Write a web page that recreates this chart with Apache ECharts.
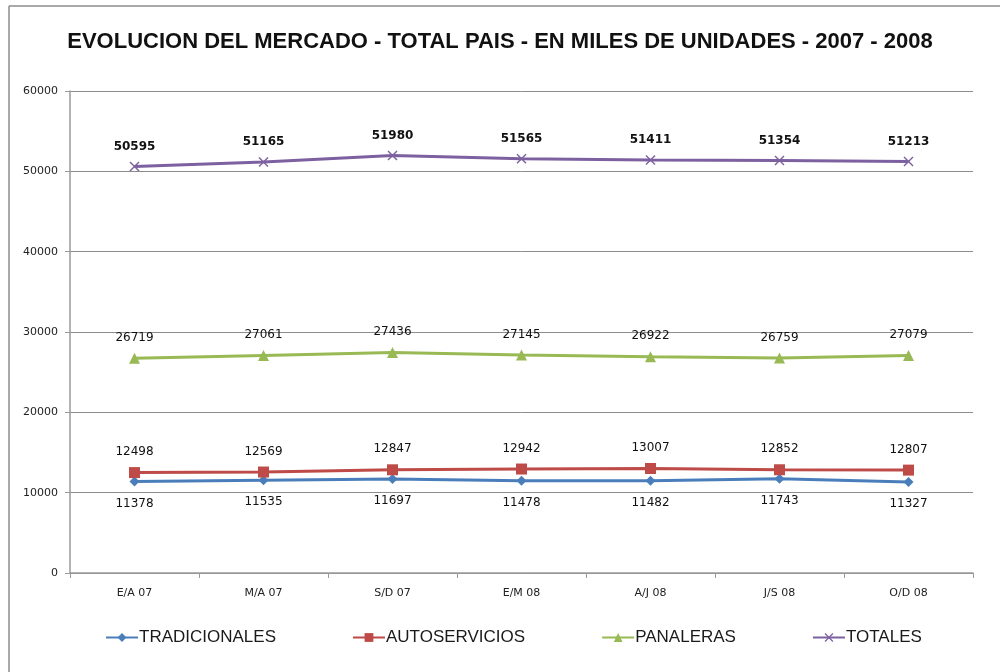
<!DOCTYPE html>
<html>
<head>
<meta charset="utf-8">
<script src="https://cdn.jsdelivr.net/npm/echarts@6/dist/echarts.min.js"></script>
<style>
  html, body { margin: 0; padding: 0; background: #fff; overflow: hidden; }
  #chart { width: 1000px; height: 672px; }
</style>
</head>
<body>
<div id="chart"></div>
<script>
// periods (bimonthly etc.)
const periods = ['E/A 07', 'M/A 07', 'S/D 07', 'E/M 08', 'A/J 08', 'J/S 08', 'O/D 08'];

const tradicionales = [11378, 11535, 11697, 11478, 11482, 11743, 11327];
const autoservicios = [12498, 12569, 12847, 12942, 13007, 12852, 12807];
const panaleras = [26719, 27061, 27436, 27145, 26922, 26759, 27079];
const totales = [50595, 51165, 51980, 51565, 51411, 51354, 51213];

const xSymbol = 'path://M0,1 L1,0 L5,4 L9,0 L10,1 L6,5 L10,9 L9,10 L5,6 L1,10 L0,9 L4,5 Z';

const chart = echarts.init(document.getElementById('chart'));

const labelBase = {
    show: true,
    fontFamily: 'DejaVu Sans, sans-serif',
    fontSize: 12,
    color: '#111',
};

function lineSeries(name, data, color, symbol, size, labelPos, bold) {
    return {
        name: name,
        type: 'line',
        data: data,
        symbol: symbol,
        symbolSize: size,
        showAllSymbol: true,
        lineStyle: { color: color, width: 3 },
        itemStyle: { color: color },
        label: Object.assign({}, labelBase, {
            position: labelPos,
            distance: labelPos === 'top' ? 9 : 11,
            fontWeight: bold ? 'bold' : 'normal',
        }),
        emphasis: { disabled: true },
        animation: false,
    };
}

// outer frame: only top and left edges are visible in the picture
const frameStyle = { stroke: '#8c8c8c', lineWidth: 1.5 };

const option = {
    animation: false,
    graphic: [
        { type: 'line', shape: { x1: 9, y1: 6, x2: 1000, y2: 6 }, style: frameStyle, silent: true },
        { type: 'line', shape: { x1: 9, y1: 6, x2: 9, y2: 672 }, style: frameStyle, silent: true },
    ],
    title: {
        text: 'EVOLUCION DEL MERCADO - TOTAL PAIS - EN MILES DE UNIDADES - 2007 - 2008',
        left: 'center',
        top: 26,
        textStyle: {
            fontFamily: 'Liberation Sans Narrow, sans-serif',
            fontWeight: 'bold',
            fontSize: 22,
            color: '#111',
        },
    },
    legend: {
        left: 100,
        top: 624,
        itemGap: 76,
        itemWidth: 32,
        itemHeight: 11,
        textStyle: {
            fontFamily: 'Liberation Sans, sans-serif',
            fontSize: 17,
            color: '#1a1a1a',
            padding: [0, 0, 0, -4],
        },
        data: ['TRADICIONALES', 'AUTOSERVICIOS', 'PANALERAS', 'TOTALES'],
    },
    grid: { left: 70, right: 27, top: 91, bottom: 99 },
    xAxis: {
        type: 'category',
        data: periods,
        boundaryGap: true,
        axisLine: { lineStyle: { color: '#9a9a9a', width: 1.5 } },
        axisTick: { show: true, length: 5, lineStyle: { color: '#9a9a9a' } },
        axisLabel: {
            fontFamily: 'DejaVu Sans, sans-serif',
            fontSize: 11,
            color: '#222',
            margin: 15,
        },
    },
    yAxis: {
        type: 'value',
        min: 0,
        max: 60000,
        interval: 10000,
        axisLine: { show: true, lineStyle: { color: '#9a9a9a', width: 1.5 } },
        axisTick: { show: true, length: 5, lineStyle: { color: '#9a9a9a' } },
        axisLabel: {
            fontFamily: 'DejaVu Sans, sans-serif',
            fontSize: 11,
            color: '#222',
            margin: 12,
            formatter: v => String(v),
        },
        splitLine: { lineStyle: { color: '#8c8c8c', width: 1 } },
    },
    series: [
        lineSeries('TRADICIONALES', tradicionales, '#4a7ebb', 'diamond', 10, 'bottom', false),
        lineSeries('AUTOSERVICIOS', autoservicios, '#be4b48', 'rect', 11, 'top', false),
        lineSeries('PANALERAS', panaleras, '#98b954', 'triangle', 11, 'top', false),
        lineSeries('TOTALES', totales, '#7d60a0', xSymbol, 10, 'top', true),
    ],
};

chart.setOption(option);
</script>
</body>
</html>
